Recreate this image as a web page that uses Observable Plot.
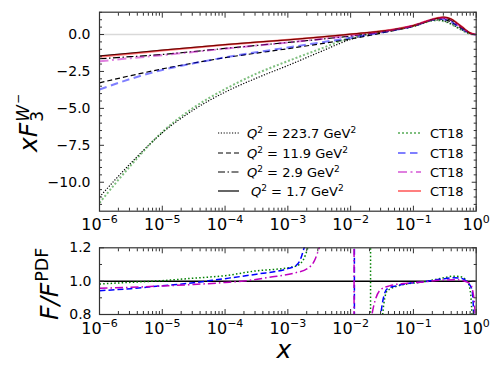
<!DOCTYPE html>
<html><head><meta charset="utf-8">
<script src="https://cdn.jsdelivr.net/npm/d3@7"></script>
<script src="https://cdn.jsdelivr.net/npm/@observablehq/plot@0.6"></script>
<style>
body{margin:0;background:#fff;}
#chart{position:relative;width:498px;height:374px;font-family:"DejaVu Sans";}
#chart svg{position:absolute;left:0;}
</style></head><body><div id="chart"></div>
<script>
// ---------- data (log10 x) ----------
const logXTop = [-6,-5.5,-5,-4.5,-4,-3.5,-3,-2.5,-2,-1.7,-1.3,-1,-0.82,-0.7,-0.6,-0.52,-0.4,-0.3,-0.22,-0.155,-0.097,-0.046,0];
const F_223 = [-11.0,-8.7,-6.65,-5.1,-3.9,-2.95,-2.1,-1.2,-0.33,0.03,0.3,0.55,0.8,0.95,0.98,0.93,0.72,0.48,0.3,0.15,0.06,0.01,0];
const CT_223 = [-11.4,-8.85,-6.6,-4.95,-3.7,-2.65,-1.8,-1.0,-0.22,0.07,0.32,0.57,0.8,0.94,0.96,0.9,0.7,0.46,0.28,0.14,0.05,0.01,0];
const F_119 = [-3.27,-2.78,-2.33,-1.93,-1.57,-1.26,-0.96,-0.64,-0.3,-0.06,0.28,0.56,0.82,0.98,1.05,1.03,0.85,0.6,0.38,0.2,0.08,0.02,0];
const CT_119 = [-3.72,-3.0,-2.4,-1.95,-1.55,-1.2,-0.88,-0.55,-0.22,0.0,0.3,0.58,0.83,0.99,1.06,1.04,0.86,0.6,0.38,0.2,0.08,0.02,0];
const F_29 = [-1.64,-1.5,-1.35,-1.15,-0.94,-0.74,-0.54,-0.33,-0.1,0.06,0.33,0.6,0.85,1.02,1.1,1.1,0.95,0.68,0.44,0.24,0.1,0.02,0];
const CT_29 = [-1.82,-1.6,-1.4,-1.18,-0.96,-0.75,-0.54,-0.32,-0.08,0.07,0.34,0.61,0.86,1.03,1.11,1.11,0.96,0.69,0.45,0.25,0.1,0.02,0];
const F_17 = [-1.45,-1.26,-1.06,-0.87,-0.69,-0.52,-0.36,-0.18,0.02,0.14,0.35,0.6,0.85,1.02,1.13,1.17,1.05,0.75,0.5,0.27,0.11,0.03,0];
const CT_17 = [-1.5,-1.3,-1.09,-0.89,-0.7,-0.53,-0.36,-0.18,0.02,0.14,0.36,0.61,0.86,1.03,1.14,1.17,1.06,0.76,0.5,0.27,0.11,0.03,0];

const logXRatio223 = [-6,-5.5,-5,-4.5,-4,-3.5,-3,-2.87,-2.75,-2.68,-2.4,-2.0,-1.75,-1.69,-1.675,-1.6,-1.49,-1.42,-1.26,-1.1,-0.84,-0.57,-0.36,-0.25,-0.15,-0.095,-0.068,-0.03];
const ratio223 = [0.983,0.993,1.003,1.018,1.033,1.062,1.08,1.09,1.13,1.2,1.5,2.8,8,30,-30,-1,0.8,0.94,0.97,0.983,0.996,1.016,1.03,1.027,1.003,0.943,0.8,0.3];
const logXRatio119 = [-6,-5.5,-5,-4.5,-4.3,-4,-3.5,-3,-2.87,-2.8,-2.74,-2.5,-2.2,-1.97,-1.945,-1.935,-1.7,-1.52,-1.42,-1.26,-1.1,-0.84,-0.57,-0.36,-0.25,-0.15,-0.07,-0.04,-0.02];
const ratio119 = [0.943,0.955,0.973,0.99,1.0,1.015,1.042,1.075,1.093,1.13,1.2,1.5,2.5,10,30,-30,-1,0.8,0.953,0.973,0.985,0.996,1.011,1.021,1.018,0.998,0.953,0.8,0.5];
const logXRatio29 = [-6,-5.5,-5,-4.5,-4,-3.7,-3.3,-2.87,-2.69,-2.58,-2.5,-2.3,-2.1,-1.97,-1.95,-1.94,-1.8,-1.66,-1.52,-1.37,-1.1,-0.84,-0.57,-0.31,-0.21,-0.095,-0.05,-0.016,0];
const ratio29 = [0.958,0.963,0.971,0.98,0.992,1.001,1.023,1.051,1.075,1.12,1.2,1.5,2.5,10,30,-30,-1.5,0.8,0.95,0.973,0.988,0.995,1.006,1.008,1.003,0.983,0.93,0.8,0.5];

const xMajor = [1e-6,1e-5,1e-4,1e-3,1e-2,1e-1,1];
const yMajorTop = [0,-2.5,-5,-7.5,-10];
const yMajorBottom = [0.8,1.0,1.2];
const legendLabels = ["223.7","11.9","2.9","1.7"];
const legendCT = ["CT18","CT18","CT18","CT18"];

// ---------- helpers ----------
const rows = (lx, ys) => lx.map((l, i) => ({x: 10 ** l, y: ys[i]}));
const xMinor = [];
for (let k = -6; k < 0; k++) for (let m = 2; m <= 9; m++) xMinor.push(m * 10 ** k);
const yMinorTop = d3.range(-11.5, 1.51, 0.5).filter(v => !yMajorTop.includes(v));
const yMinorBottom = [0.9, 1.1];
const powFmt = d => "10^" + Math.round(Math.log10(d));

function tickMarks(xMaj, xMin, yMaj, yMin) {
  const c = {stroke: "#333", label: null, tickFormat: () => ""};
  return [
    Plot.axisX(xMaj, {...c, anchor: "bottom", tickSize: 5, dy: -5}),
    Plot.axisX(xMin, {...c, anchor: "bottom", tickSize: 3, dy: -3}),
    Plot.axisX(xMaj, {...c, anchor: "top", tickSize: 5, dy: 5}),
    Plot.axisX(xMin, {...c, anchor: "top", tickSize: 3, dy: 3}),
    Plot.axisY(yMaj, {...c, anchor: "left", tickSize: 5, dx: 5}),
    Plot.axisY(yMin, {...c, anchor: "left", tickSize: 3, dx: 3}),
    Plot.axisY(yMaj, {...c, anchor: "right", tickSize: 5, dx: -5}),
    Plot.axisY(yMin, {...c, anchor: "right", tickSize: 3, dx: -3})
  ];
}
const L = {x: "x", y: "y", curve: "monotone-x", strokeLinecap: "butt", clip: true};

// ---------- top panel ----------
const topPlot = Plot.plot({
  width: 498, height: 236,
  marginLeft: 99, marginRight: 22.3, marginTop: 11.7, marginBottom: 25.3,
  style: {fontFamily: "DejaVu Sans", background: "transparent", overflow: "visible"},
  x: {type: "log", domain: [1e-6, 1]},
  y: {domain: [-11.96, 1.51]},
  marks: [
    Plot.ruleY([0], {stroke: "#d9d9d9", strokeWidth: 1.5}),
    Plot.line(rows(logXTop, F_223), {...L, stroke: "black", strokeWidth: 1.2, strokeDasharray: "1.2,1.6"}),
    Plot.line(rows(logXTop, F_119), {...L, stroke: "black", strokeWidth: 1.2, strokeDasharray: "5,3"}),
    Plot.line(rows(logXTop, F_29), {...L, stroke: "black", strokeWidth: 1.2, strokeDasharray: "7,2.5,1.5,2.5"}),
    Plot.line(rows(logXTop, F_17), {...L, stroke: "black", strokeWidth: 1.2}),
    Plot.line(rows(logXTop, CT_223), {...L, stroke: "green", strokeOpacity: 0.5, strokeWidth: 2, strokeDasharray: "2,2"}),
    Plot.line(rows(logXTop, CT_119), {...L, stroke: "blue", strokeOpacity: 0.5, strokeWidth: 2, strokeDasharray: "7.5,4.5"}),
    Plot.line(rows(logXTop, CT_29), {...L, stroke: "#bf00bf", strokeOpacity: 0.5, strokeWidth: 2, strokeDasharray: "9,3.5,2,3.5"}),
    Plot.line(rows(logXTop, CT_17), {...L, stroke: "red", strokeOpacity: 0.5, strokeWidth: 2}),
    Plot.frame({stroke: "#333", strokeWidth: 1.2}),
    ...tickMarks(xMajor, xMinor, yMajorTop, yMinorTop),
    Plot.axisX(xMajor, {anchor: "bottom", tickSize: 0, tickPadding: 7, fontSize: 16, label: null, tickFormat: powFmt}),
    Plot.axisY(yMajorTop, {anchor: "left", tickSize: 0, tickPadding: 9, fontSize: 14, label: null, tickFormat: d3.format(".1f")})
  ]
});

// ---------- bottom panel ----------
const bottomPlot = Plot.plot({
  width: 498, height: 138,
  marginLeft: 99, marginRight: 22.3, marginTop: 11.3, marginBottom: 60,
  style: {fontFamily: "DejaVu Sans", background: "transparent", overflow: "visible"},
  x: {type: "log", domain: [1e-6, 1]},
  y: {domain: [0.8, 1.2]},
  marks: [
    Plot.ruleY([1], {stroke: "black", strokeWidth: 1.5}),
    Plot.line(rows(logXRatio223, ratio223), {...L, stroke: "green", strokeWidth: 1.5, strokeDasharray: "1.5,2.2"}),
    Plot.line(rows(logXRatio119, ratio119), {...L, stroke: "blue", strokeWidth: 1.5, strokeDasharray: "6,3"}),
    Plot.line(rows(logXRatio29, ratio29), {...L, stroke: "#bf00bf", strokeWidth: 1.5, strokeDasharray: "8,3,1.5,3"}),
    Plot.frame({stroke: "#333", strokeWidth: 1.2}),
    ...tickMarks(xMajor, xMinor, yMajorBottom, yMinorBottom),
    Plot.axisX(xMajor, {anchor: "bottom", tickSize: 0, tickPadding: 8, fontSize: 16, label: null, tickFormat: powFmt}),
    Plot.axisY(yMajorBottom, {anchor: "left", tickSize: 0, tickPadding: 8, fontSize: 14, label: null, tickFormat: d3.format(".1f")})
  ]
});

const chart = document.getElementById("chart");
topPlot.style.top = "0px";
bottomPlot.style.top = "236px";
chart.append(topPlot, bottomPlot);

// superscript exponents on tick labels
for (const svg of [topPlot, bottomPlot]) {
  d3.select(svg).selectAll("text").each(function () {
    const m = /^10\^(-?\d+)$/.exec(this.textContent);
    if (!m) return;
    const s = d3.select(this);
    s.text("10");
    s.append("tspan").attr("dy", -7).attr("font-size", 11).text(m[1].replace("-", "\u2212"));
  });
}

// y label top: x F_3^{W^-}
{
  const g = d3.select(topPlot).append("g").attr("transform", "translate(37,152) rotate(-90)")
    .attr("font-family", "DejaVu Sans").attr("fill", "black").attr("text-anchor", "start");
  const t = g.append("text").attr("font-size", 25).attr("font-style", "italic").text("xF");
  const w = t.node().getComputedTextLength();
  g.append("text").attr("x", w + 1).attr("y", 6).attr("font-size", 17).text("3");
  const tw = g.append("text").attr("x", w + 1).attr("y", -8).attr("font-size", 17).attr("font-style", "italic").text("W");
  const ww = tw.node().getComputedTextLength();
  g.append("text").attr("x", w + ww + 2).attr("y", -15).attr("font-size", 12).text("\u2212");
}
// y label bottom: F/F^PDF
{
  const g = d3.select(bottomPlot).append("g").attr("transform", "translate(58,84) rotate(-90)")
    .attr("font-family", "DejaVu Sans").attr("fill", "black").attr("text-anchor", "start");
  const t = g.append("text").attr("font-size", 25).attr("font-style", "italic").text("F/F");
  const w = t.node().getComputedTextLength();
  g.append("text").attr("x", w + 1).attr("y", -10).attr("font-size", 17.5).text("PDF");
}
// x label
d3.select(bottomPlot).append("text").attr("x", 284).attr("y", 122).attr("text-anchor", "middle")
  .attr("font-family", "DejaVu Sans").attr("font-size", 25).attr("font-style", "italic").text("x");

// legend
{
  const g = d3.select(topPlot).append("g").attr("font-family", "DejaVu Sans").attr("font-size", 13)
    .attr("fill", "black").attr("text-anchor", "start");
  const rowsY = [133, 153, 172, 191];
  const blackDash = ["1.2,1.6", "5,3", "7,2.5,1.5,2.5", null];
  const colStroke = ["green", "blue", "#bf00bf", "red"];
  const colDash = ["2,2", "7.5,4.5", "9,3.5,2,3.5", null];
  rowsY.forEach((y, i) => {
    g.append("line").attr("x1", 218).attr("x2", 239).attr("y1", y).attr("y2", y)
      .attr("stroke", "black").attr("stroke-width", 1.2).attr("stroke-dasharray", blackDash[i]);
    const t = g.append("text").attr("x", i === 3 ? 251 : 247).attr("y", y + 5);
    t.append("tspan").attr("font-style", "italic").text("Q");
    t.append("tspan").attr("font-size", 9).attr("dy", -5).text("2");
    t.append("tspan").attr("dy", 5).text(" = " + legendLabels[i] + " GeV");
    t.append("tspan").attr("font-size", 9).attr("dy", -5).text("2");
    g.append("line").attr("x1", 398).attr("x2", 421).attr("y1", y).attr("y2", y)
      .attr("stroke", colStroke[i]).attr("stroke-opacity", 0.5).attr("stroke-width", 2).attr("stroke-dasharray", colDash[i]);
    g.append("text").attr("x", 430).attr("y", y + 5).text(legendCT[i]);
  });
}
</script></body></html>
